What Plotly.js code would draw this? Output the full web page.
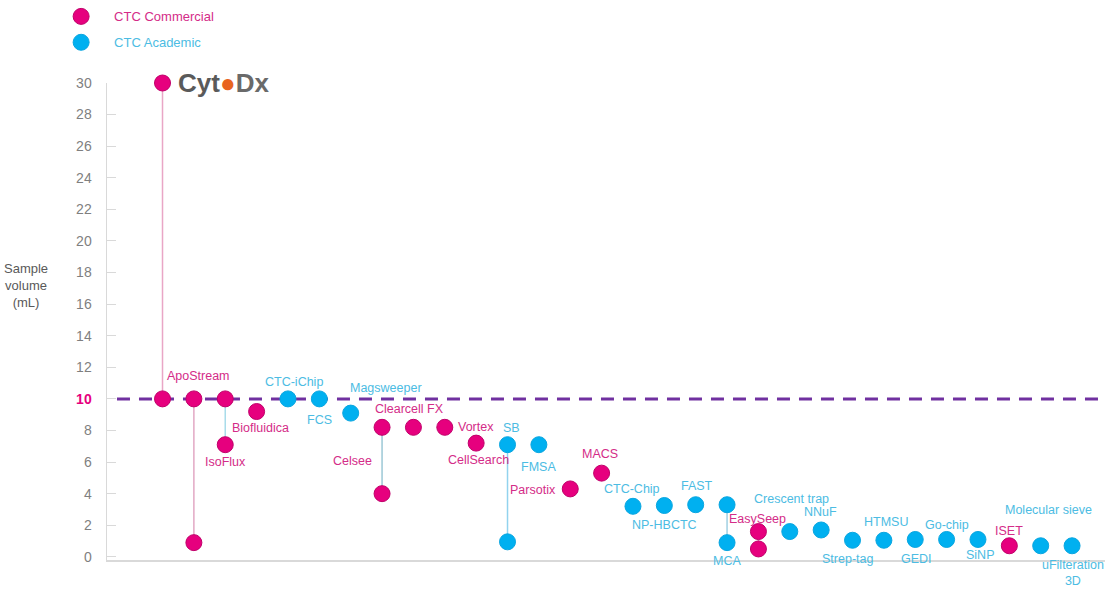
<!DOCTYPE html>
<html>
<head>
<meta charset="utf-8">
<script src="https://cdn.plot.ly/plotly-3.0.1.min.js"></script>
<style>html,body{margin:0;padding:0;background:#fff;}#chart{width:1113px;height:589px;}</style>
</head>
<body>
<div id="chart"></div>
<script>
// ---------- DATA ----------
const categories = ["CytoDx","ApoStream","IsoFlux","Biofluidica","CTC-iChip","FCS","Magsweeper","Celsee","Clearcell FX","Vortex","CellSearch","SB","FMSA","Parsotix","MACS","CTC-Chip","NP-HBCTC","FAST","MCA","EasySeep","Crescent trap","NNuF","Strep-tag","HTMSU","GEDI","Go-chip","SiNP","ISET","Molecular sieve","uFilteration 3D"];
const groups = ["Commercial","Commercial","Commercial","Commercial","Academic","Academic","Academic","Commercial","Commercial","Commercial","Commercial","Academic","Academic","Commercial","Commercial","Academic","Academic","Academic","Academic","Commercial","Academic","Academic","Academic","Academic","Academic","Academic","Academic","Commercial","Academic","Academic"];
const volumeHigh = [30,10,10,9.2,10,10,9.1,8.2,8.2,8.2,7.2,7.1,7.1,4.3,5.3,3.2,3.25,3.3,3.3,1.6,1.6,1.7,1.05,1.05,1.1,1.1,1.1,0.7,0.7,0.7];
const volumeLow = [10,0.9,7.1,null,null,null,null,4.0,null,null,null,0.95,null,null,null,null,null,null,0.9,0.5,null,null,null,null,null,null,null,null,null,null];
const thresholdValue = 10;
const yTicks = [0,2,4,6,8,10,12,14,16,18,20,22,24,26,28,30];
const legendNames = {Commercial: "CTC Commercial", Academic: "CTC Academic"};

// ---------- STYLE ----------
const markerColor = {Commercial: "#E6007E", Academic: "#00B0F0"};
const markerEdge = {Commercial: "#C0006A", Academic: "#0AA6E0"};
const textColor = {Commercial: "#D42C88", Academic: "#4CBCE3"};
const rangeLineColor = {"CytoDx":"#E9A6C6","ApoStream":"#E2A8C4","IsoFlux":"#A8DCEA","Celsee":"#9CC8D6","SB":"#92D3EE","MCA":"#A0D0E2","EasySeep":"#E9A6C6"};
// label placement: which value anchors it, pixel offset (dx right, dy down)
const labelPlace = {
 "ApoStream":["hi",5,-23],"IsoFlux":["lo",0,17],"Biofluidica":["hi",4,16],"CTC-iChip":["hi",6,-17],
 "FCS":["hi",0,21],"Magsweeper":["hi",35,-25],"Celsee":["hi",-30,34],"Clearcell FX":["hi",-4,-18],
 "Vortex":["hi",31,0],"CellSearch":["hi",2,17],"SB":["hi",4,-17],"FMSA":["hi",0,22],
 "Parsotix":["hi",-37,1],"MACS":["hi",-2,-19],"CTC-Chip":["hi",-1,-17],"NP-HBCTC":["hi",0,19],
 "FAST":["hi",1,-19],"MCA":["lo",0,18],"EasySeep":["hi",-1,-13],"Crescent trap":["hi",2,-33],
 "NNuF":["hi",-1,-18],"Strep-tag":["hi",-5,19],"HTMSU":["hi",2,-18],"GEDI":["hi",1,20],
 "Go-chip":["hi",0,-14],"SiNP":["hi",2,16],"ISET":["hi",0,-15],"Molecular sieve":["hi",8,-36],
 "uFilteration 3D":["hi",1,27]
};
const FONT = "Arial, 'Liberation Sans', sans-serif";

const traces = [];
// range lines
categories.forEach((c,i)=>{
  if(volumeLow[i]!==null){
    traces.push({type:"scatter",mode:"lines",x:[c,c],y:[volumeHigh[i],volumeLow[i]],
      line:{color:rangeLineColor[c]||"#cccccc",width:1.5},showlegend:false,hoverinfo:"skip",cliponaxis:false});
  }
});
// markers per group
["Commercial","Academic"].forEach((g,gi)=>{
  const xs=[],ys=[];
  categories.forEach((c,i)=>{
    if(groups[i]===g){
      xs.push(c); ys.push(volumeHigh[i]);
      if(volumeLow[i]!==null){xs.push(c); ys.push(volumeLow[i]);}
    }
  });
  traces.push({type:"scatter",mode:"markers",x:xs,y:ys,
    name:"<span style='color:"+textColor[g]+"'>"+legendNames[g]+"</span>",
    legendgroup:g,cliponaxis:false,
    marker:{color:markerColor[g],size:16,line:{color:markerEdge[g],width:1}}});
});

const annotations = [];
categories.forEach((c,i)=>{
  const p = labelPlace[c];
  if(!p) return;
  const yv = p[0]==="lo"?volumeLow[i]:volumeHigh[i];
  annotations.push({x:c,y:yv,xref:"x",yref:"y",text:c.replace(" 3D","<br>3D"),showarrow:false,
    xshift:p[1],yshift:-p[2],font:{family:FONT,size:12.5,color:textColor[groups[i]]},xanchor:"center",yanchor:"middle"});
});
// CytoDx logo text
annotations.push({x:categories[0],y:volumeHigh[0],xref:"x",yref:"y",
  text:"<b><span style='color:#5a5a5a'>Cyt</span><span style='color:#E8641E'>●</span><span style='color:#6a6a6a'>Dx</span></b>",
  showarrow:false,xanchor:"left",yanchor:"middle",xshift:13,yshift:0,font:{family:FONT,size:26,color:"#5a5a5a"}});
// y-axis title
annotations.push({xref:"paper",yref:"paper",x:-0.081,y:0.575,xanchor:"center",yanchor:"middle",showarrow:false,
  text:"Sample<br>volume<br>(mL)",font:{family:FONT,size:13,color:"#595959"}});

const ticktext = yTicks.map(v=> v===thresholdValue ? "<b><span style='color:#E6007E'>"+v+"</span></b>" : String(v));

const layout = {
  width:1113,height:589,
  margin:{l:107,r:8,t:83,b:29,pad:0,autoexpand:false},
  paper_bgcolor:"#ffffff",plot_bgcolor:"#ffffff",
  font:{family:FONT,size:13,color:"#7F7F7F"},
  showlegend:true,
  legend:{x:-0.059,y:1.171,xanchor:"left",yanchor:"top",bgcolor:"rgba(0,0,0,0)",
    font:{family:FONT,size:13},itemwidth:56,traceorder:"grouped",tracegroupgap:6},
  xaxis:{type:"category",categoryorder:"array",categoryarray:categories,range:[-1.77,30.05],
    showticklabels:false,ticks:"",showgrid:false,zeroline:false,
    showline:true,linecolor:"#D9D9D9",linewidth:1.5},
  yaxis:{range:[-0.2,30],tickvals:yTicks,ticktext:ticktext,ticks:"inside",ticklen:9,tickcolor:"#D9D9D9",tickwidth:1,
    ticklabelstandoff:11,showgrid:false,zeroline:false,showline:true,linecolor:"#D9D9D9",linewidth:1.5,
    tickfont:{family:FONT,size:14,color:"#7F7F7F"}},
  shapes:[{type:"line",xref:"paper",yref:"y",x0:0.01,x1:1,y0:thresholdValue,y1:thresholdValue,
    line:{color:"#7030A0",width:3,dash:"13px,9px"},layer:"below"}],
  annotations:annotations
};
Plotly.newPlot("chart",traces,layout,{displayModeBar:false,staticPlot:true});
</script>
</body>
</html>
